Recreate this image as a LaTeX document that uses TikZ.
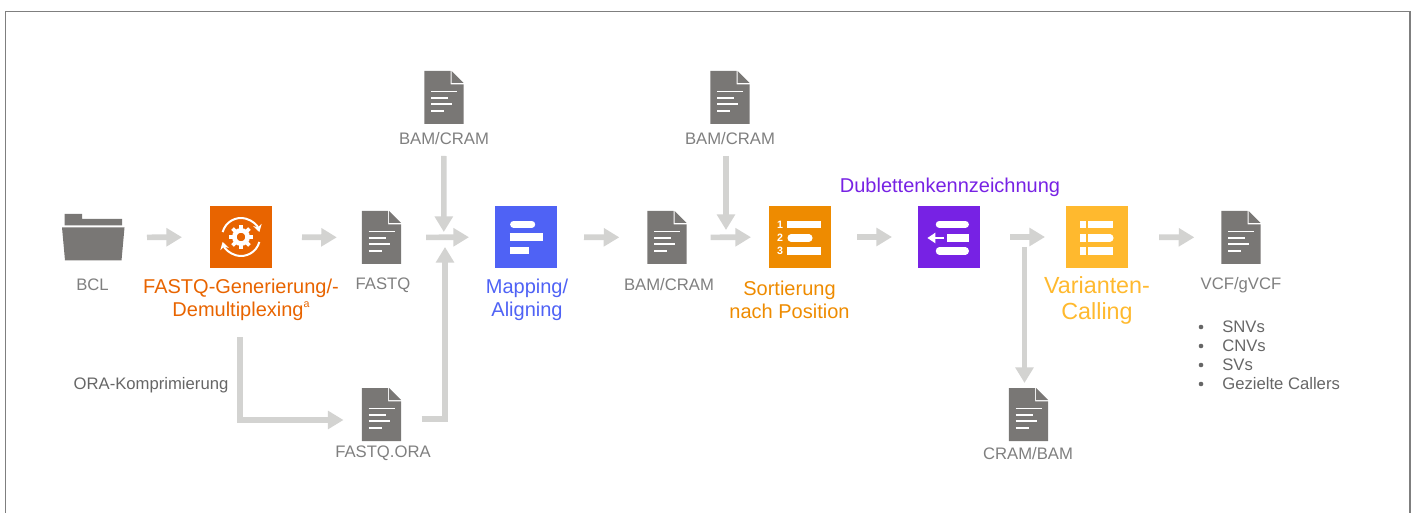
\documentclass[tikz,border=0pt]{standalone}
\usepackage{fontspec}
\setmainfont{Liberation Sans}
\usetikzlibrary{arrows.meta}
\definecolor{docgrey}{HTML}{797775}
\definecolor{flowgrey}{HTML}{D3D3D1}
\definecolor{labelgrey}{HTML}{7F7F7F}
\definecolor{listgrey}{HTML}{666666}
\definecolor{cOrange}{HTML}{E86400}
\definecolor{cBlue}{HTML}{4F62F5}
\definecolor{cAmber}{HTML}{EE8B00}
\definecolor{cPurple}{HTML}{7722E4}
\definecolor{cYellow}{HTML}{FFB92E}
\tikzset{
  flow/.style={draw=flowgrey,line width=4.2pt,-{Triangle[length=11.7pt,width=13.2pt]}},
  gap/.style 2 args={shorten <=#1*0.75pt,shorten >=#2*0.75pt},
  box/.style={minimum size=46.5pt,inner sep=0pt,outer sep=0pt,draw=none,fill=#1},
  docn/.style={minimum width=29.5pt,minimum height=39.75pt,inner sep=0pt,outer sep=0pt},
  foldn/.style={minimum width=46.5pt,minimum height=35.25pt,inner sep=0pt,outer sep=0pt},
  lab/.style={text=labelgrey,font=\fontsize{12.5pt}{14pt}\selectfont,inner sep=0pt},
  steplab/.style={text=#1,font=\fontsize{15pt}{17.2pt}\selectfont,inner sep=0pt,align=center},
  digit/.style={text=white,font=\bfseries\fontsize{8pt}{8pt}\selectfont,inner sep=0pt},
  wbar/.style={draw=white,line width=5.3pt},
  wround/.style={draw=white,line width=5.3pt,line cap=round},
}
\newcommand{\docicon}[1]{%
  \begin{scope}[shift={(#1)}]
    \fill[docgrey] (-19.7,-26.5) -- (6.6,-26.5) -- (6.6,-13.2) -- (19.7,-13.2) -- (19.7,26.5) -- (-19.7,26.5) -- cycle;
    \fill[docgrey] (7.7,-26.5) -- (19.7,-14.5) -- (7.7,-14.5) -- cycle;
    \foreach \yy/\xx in {-6/13.3,0.8/4.3,6.8/8.3,13.5/0.3}
      \draw[white,line width=1.4pt] (-13,\yy) -- (\xx,\yy);
  \end{scope}}
\begin{document}
\begin{tikzpicture}[x=0.75pt,y=-0.75pt]
\useasboundingbox (0,0) rectangle (1413,513);
\draw[draw=labelgrey,line width=0.9pt] (5.8,530) -- (5.8,11.7) -- (1410,11.7) -- (1410,530);

% Nodes
\node[foldn] (bcl) at (93,237.5) {};
\node[box=cOrange] (gen) at (241,237) {};
\node[docn] (fastq) at (381.5,237.5) {};
\node[docn] (bamA) at (444,97.5) {};
\node[docn] (ora) at (381.5,414.5) {};
\node[box=cBlue] (map) at (526,237) {};
\node[docn] (bamB) at (667,237.5) {};
\node[docn] (bamC) at (730,97.5) {};
\node[box=cAmber] (sort) at (800,237) {};
\node[box=cPurple] (dup) at (949,237) {};
\node[box=cYellow] (var) at (1097,237) {};
\node[docn] (cram) at (1028.5,414.5) {};
\node[docn] (vcf) at (1241,237.5) {};

% Folder
\fill[docgrey] (64.5,214) -- (82,214) -- (82,219) -- (122,219) -- (122,225.5) -- (64.5,225.5) -- cycle;
\fill[docgrey] (62,227.5) -- (124.5,227.5) -- (121.5,260.5) -- (65,260.5) -- cycle;

% Documents
\docicon{fastq}
\docicon{bamA}
\docicon{ora}
\docicon{bamB}
\docicon{bamC}
\docicon{cram}
\docicon{vcf}

% Gear icon
\begin{scope}[shift={(gen)}]
  \draw[white,line width=1.5pt,-{Stealth[length=5.5pt,width=6.5pt]}] (195:19) arc[start angle=195,end angle=345,radius=19];
  \draw[white,line width=1.5pt,-{Stealth[length=5.5pt,width=6.5pt]}] (15:19) arc[start angle=15,end angle=165,radius=19];
  \foreach \a in {0,45,...,315}
    \draw[white,line width=2.8pt] (\a:7) -- (\a:12);
  \draw[white,line width=3.4pt] (0,0) circle[radius=6.6];
\end{scope}

% Mapping icon
\draw[wround] (513.6,224.3) -- (531.7,224.3);
\draw[wbar] (509.5,237) -- (543.3,237);
\draw[wbar] (510,250.3) -- (529,250.3);
% Sorting icon
\draw[wbar] (787.3,224.3) -- (821,224.3);
\draw[wround] (791,238) -- (809,238);
\draw[wbar] (787.3,251) -- (821,251);
\node[digit] (n1) at (780,224.5) {1};
\node[digit] (n2) at (780,238) {2};
\node[digit] (n3) at (780,251) {3};
% Duplicate icon
\draw[wround] (939.3,224.3) -- (965.4,224.3);
\draw[wbar] (947.3,238) -- (969,238);
\draw[wround] (939.3,251) -- (965.4,251);
\draw[white,line width=1.8pt,-{Triangle[length=6pt,width=7.5pt]}] (944,238) -- (927.3,238);
% Variant icon
\draw[wbar] (1080,224.3) -- (1086,224.3);
\draw[wbar] (1088.3,224.3) -- (1113.3,224.3);
\draw[wbar] (1080,238) -- (1086,238);
\draw[wbar] (1088.3,238) -- (1106,238);
\draw[wround] (1106,238) -- (1110,238);
\draw[wbar] (1080,251) -- (1086,251);
\draw[wbar] (1088.3,251) -- (1113.3,251);

% Labels
\node[lab] (tbcl) at (92.5,285) {BCL};
\node[steplab=cOrange] (tgen) at (241,299.5) {FASTQ-Generierung/-\\Demultiplexing\raisebox{0.45em}{\fontsize{8pt}{8pt}\selectfont a}};
\node[lab] (tfastq) at (383,285) {FASTQ};
\node[lab] (tbamA) at (444,138.5) {BAM/CRAM};
\node[lab] (tora) at (383,453.5) {FASTQ.ORA};
\node[lab,text=listgrey] (tcomp) at (151,385.5) {ORA-Komprimierung};
\node[steplab=cBlue] (tmap) at (527,299.5) {Mapping/\\Aligning};
\node[lab] (tbamB) at (669,285) {BAM/CRAM};
\node[lab] (tbamC) at (730,138.5) {BAM/CRAM};
\node[steplab=cAmber] (tsort) at (789.5,299.5) {Sortierung\\nach Position};
\node[steplab=cPurple] (tdup) at (950,187.5) {Dublettenkennzeichnung};
\node[steplab=cYellow,font=\fontsize{17.5pt}{19.5pt}\selectfont] (tvar) at (1097,300) {Varianten-\\Calling};
\node[lab] (tcram) at (1028,453.5) {CRAM/BAM};
\node[lab] (tvcf) at (1241,285) {VCF/gVCF};
\foreach \yy/\tt [count=\i] in {327/SNVs,346/CNVs,365/SVs,384/Gezielte Callers}{
  \node[lab,text=listgrey,anchor=west] (li\i) at (1222,\yy) {\tt};
  \fill[listgrey] (1201,\yy) circle[radius=2.3];
}

% Free connector ends
\coordinate (mA) at (443.8,232);
\coordinate (mB) at (445,247);
\coordinate (mC) at (726,230);
\coordinate (sC) at (726,124);
\coordinate (sD) at (1024.5,247);
\coordinate (eD) at (1024.5,383);
\coordinate (oraS) at (240,337);
\coordinate (oraIn) at (381.5,420);
\coordinate (oraOut) at (381.5,419);

% Connectors
\draw[flow,gap={23}{28}] (bcl) -- (gen);
\draw[flow,gap={30}{25}] (gen) -- (fastq);
\draw[flow,gap={25}{26}] (fastq) -- (map);
\draw[flow,gap={32}{0}] (bamA) -- (mA);
\draw[flow,gap={40}{0},line join=miter] (oraOut) -| (mB);
\draw[flow,gap={27}{28}] (map) -- (bamB);
\draw[flow,gap={24}{18}] (bamB) -- (sort);
\draw[flow,gap={32}{0}] (sC) -- (mC);
\draw[flow,gap={26}{26}] (sort) -- (dup);
\draw[flow,gap={30}{21}] (dup) -- (var);
\draw[flow] (sD) -- (eD);
\draw[flow,gap={0}{38},line join=miter] (oraS) |- (oraIn);
\draw[flow,gap={31}{27}] (var) -- (vcf);
\end{tikzpicture}
\end{document}
